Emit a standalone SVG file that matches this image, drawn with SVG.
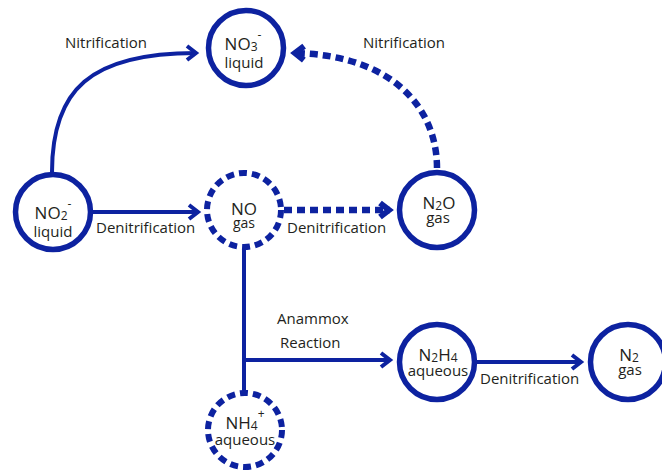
<svg xmlns="http://www.w3.org/2000/svg" width="662" height="470" viewBox="0 0 662 470">
  <style>
    .ring { fill: #ffffff; stroke: #0d22a0; stroke-width: 5.5; }
    .ring.dash { stroke-dasharray: 8 5; stroke-width: 6; }
    .wire { fill: none; stroke: #0d22a0; stroke-width: 4; }
    .wire.dash { stroke-width: 6.5; stroke-dasharray: 8 5; }
    text { font-family: "Open Sans", "Liberation Sans", sans-serif; fill: #231f20; }
    .chem { font-size: 17px; text-anchor: middle; }
    .state { font-size: 15px; }
    .lbl { font-size: 15px; }
    .sub { font-size: 12px; }
  </style>
  <defs>
    <marker id="head" viewBox="-14 -10 18 20" refX="0" refY="0" markerWidth="18" markerHeight="20" markerUnits="userSpaceOnUse" orient="auto" overflow="visible">
      <path d="M-9,-7 L0,0 L-9,7" fill="none" stroke="#0d22a0" stroke-width="4"/>
    </marker>
    <marker id="headDash" viewBox="-14 -10 18 20" refX="0" refY="0" markerWidth="18" markerHeight="20" markerUnits="userSpaceOnUse" orient="auto" overflow="visible">
      <path d="M-10,-7 L-1,0 L-10,7" fill="none" stroke="#0d22a0" stroke-width="6"/>
    </marker>
  </defs>

  <!-- connectors -->
  <g id="connectors">
    <path class="wire" d="M52,172 C52,90 90,53 196,53" marker-end="url(#head)"/>
    <path class="wire dash" d="M437,168 C437,110 395,55 294,53" marker-end="url(#headDash)"/>
    <path class="wire" d="M93,212 L198,212" marker-end="url(#head)"/>
    <path class="wire dash" d="M284,210 L390,210" marker-end="url(#headDash)"/>
    <path class="wire" d="M244,250 L244,392"/>
    <path class="wire" d="M244,360 L390,360" marker-end="url(#head)"/>
    <path class="wire" d="M477,362 L581,362" marker-end="url(#head)"/>
  </g>

  <!-- edge labels -->
  <g id="labels">
    <text class="lbl" x="65" y="48">Nitrification</text>
    <text class="lbl" x="363" y="48">Nitrification</text>
    <text class="lbl" x="96" y="233">Denitrification</text>
    <text class="lbl" x="287" y="233">Denitrification</text>
    <text class="lbl" x="480" y="384">Denitrification</text>
    <text class="lbl" x="277" y="324">Anammox</text>
    <text class="lbl" x="280" y="348">Reaction</text>
  </g>

  <!-- species: formula on the first line, phase on the second -->
  <g id="node-no3">
    <circle class="ring" cx="246" cy="48" r="37.5"/>
    <text class="chem" x="243" y="50">NO<tspan class="sub" dy="1">3</tspan><tspan class="sub" dy="-12">-</tspan><tspan class="state" x="244" dy="29">liquid</tspan></text>
  </g>

  <g id="node-no2">
    <circle class="ring" cx="53" cy="212" r="37.5"/>
    <text class="chem" x="53" y="219">NO<tspan class="sub" dy="1">2</tspan><tspan class="sub" dy="-12">-</tspan><tspan class="state" x="53" dy="29">liquid</tspan></text>
  </g>

  <g id="node-no">
    <circle class="ring dash" cx="244" cy="210" r="37"/>
    <text class="chem" x="244" y="215">NO<tspan class="state" x="244" dy="13" style="font-size:14px">gas</tspan></text>
  </g>

  <g id="node-n2o">
    <circle class="ring" cx="437" cy="210" r="37.5"/>
    <text class="chem" x="439" y="209">N<tspan class="sub" dy="1">2</tspan><tspan dy="-1">O</tspan><tspan class="state" x="438" dy="14">gas</tspan></text>
  </g>

  <g id="node-nh4">
    <circle class="ring dash" cx="245" cy="430" r="37"/>
    <text class="chem" x="245" y="429">NH<tspan class="sub" dy="1">4</tspan><tspan class="sub" dy="-12">+</tspan><tspan class="state" x="245" dy="27">aqueous</tspan></text>
  </g>

  <g id="node-n2h4">
    <circle class="ring" cx="437" cy="362" r="37.5"/>
    <text class="chem" x="438" y="361">N<tspan class="sub" dy="1">2</tspan><tspan dy="-1">H</tspan><tspan class="sub" dy="1">4</tspan><tspan class="state" x="438" dy="14">aqueous</tspan></text>
  </g>

  <g id="node-n2">
    <circle class="ring" cx="628" cy="362" r="37.5"/>
    <text class="chem" x="629" y="361">N<tspan class="sub" dy="1">2</tspan><tspan class="state" x="630" dy="13">gas</tspan></text>
  </g>
</svg>
